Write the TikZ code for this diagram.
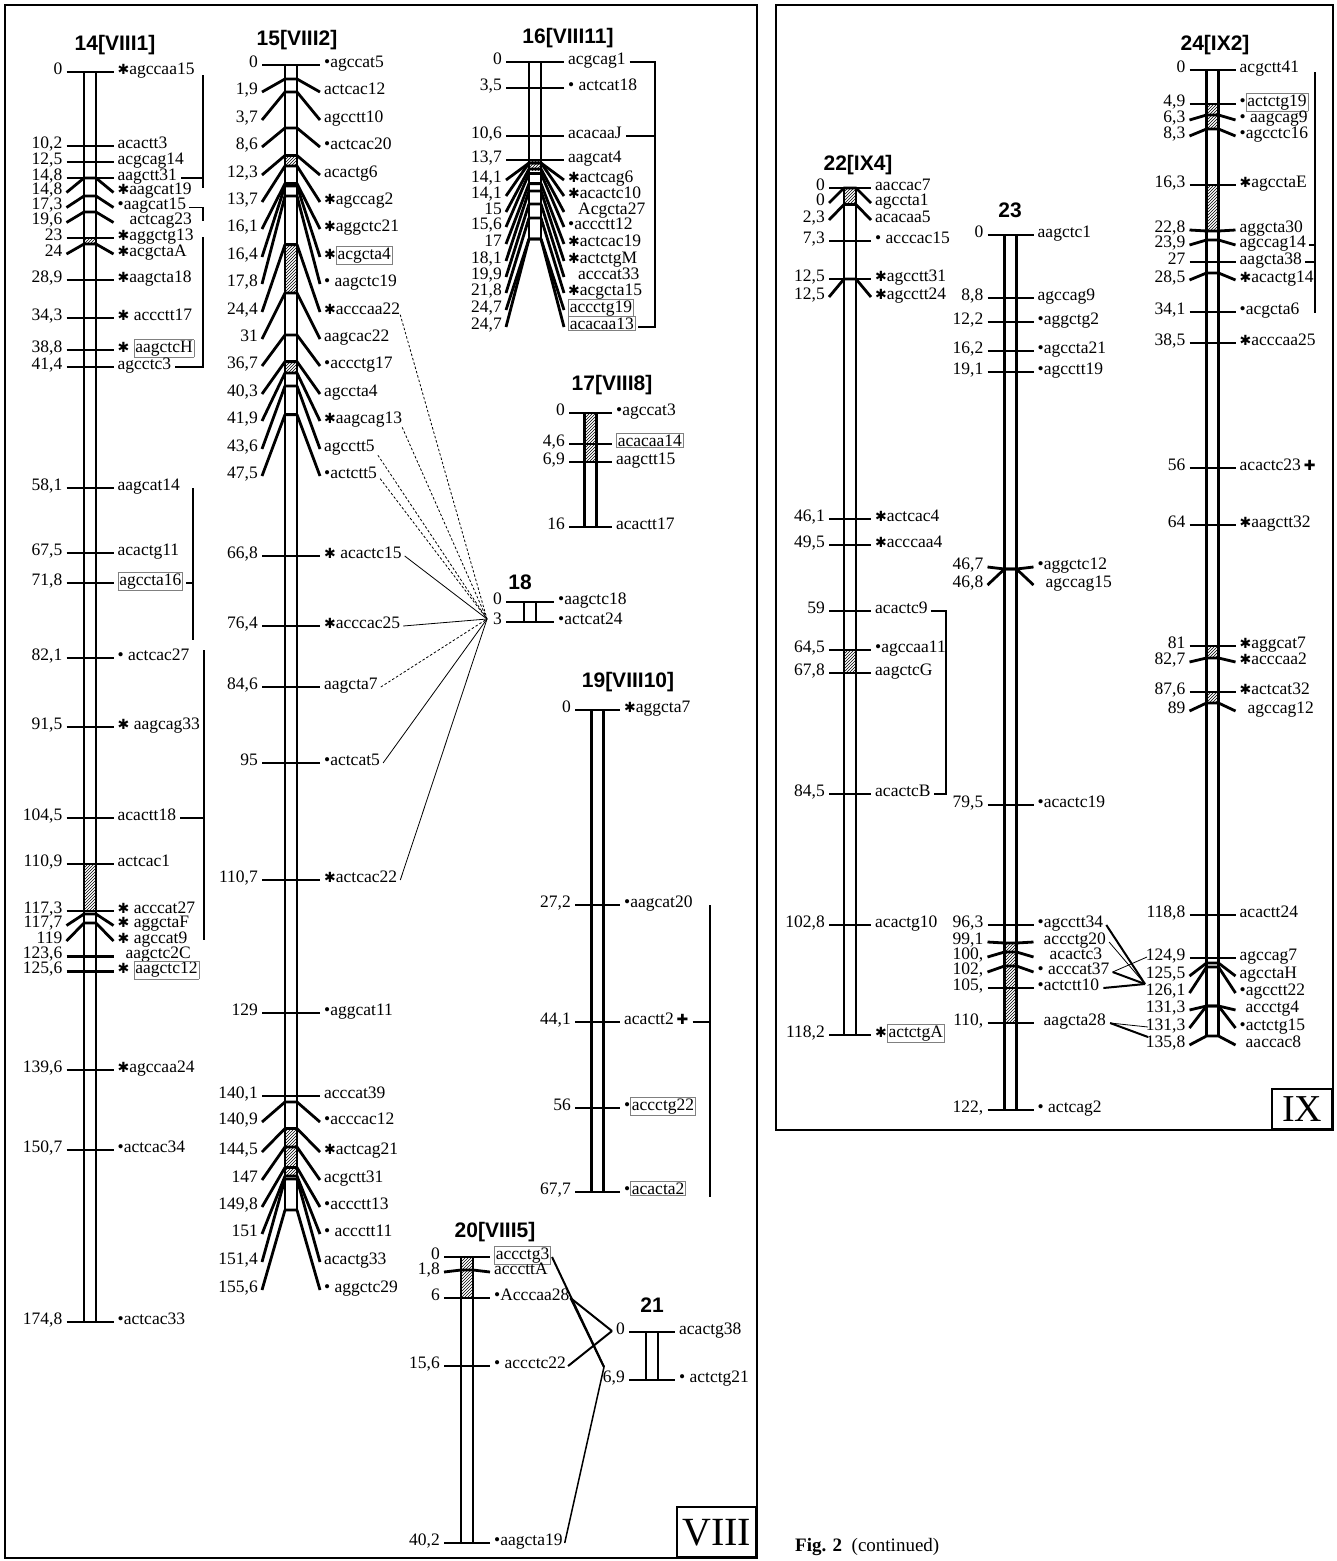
\documentclass[tikz,border=0pt]{standalone}
\usepackage{fontspec}
\setmainfont{Liberation Serif}
\newfontfamily\sansb{Liberation Sans}
\newfontfamily\djv{DejaVu Sans}
\usetikzlibrary{patterns,calc}
\newcommand\As{{\djv\fontsize{14}{14}\selectfont ✱}}
\newcommand\Bu{•}
\newcommand\Pl{\,{\djv\fontsize{14}{14}\selectfont ✚}}
\newcommand\Bx[1]{{\setlength\fboxsep{1pt}\setlength\fboxrule{0.6pt}\fcolorbox{gray}{white}{#1}}}
\tikzset{
 mtick/.style={line width=2.8pt, line join=round},
 barl/.style={line width=2.6pt},
 lab/.style={font=\fontsize{17.5}{17.5}\selectfont, inner sep=0pt},
 num/.style={font=\fontsize{17.5}{17.5}\selectfont, inner sep=0pt},
 ttl/.style={font=\sansb\bfseries\fontsize{21}{21}\selectfont, inner sep=0pt},
 brk/.style={line width=1.1pt},
 fan/.style={line width=0.8pt},
 fandash/.style={line width=0.8pt, dash pattern=on 2.5pt off 2pt},
 link/.style={line width=2pt},
 frame/.style={line width=1.6pt},
}
\def\mkx{0}\def\mkh{0}
\newcommand\mk[5]{%
 \draw[mtick] ({\mkx-\mkh},#3) -- ({\mkx-6},#2) -- ({\mkx+6},#2) -- ({\mkx+\mkh},#3);
 \node[num,anchor=mid east] (#1n) at ({\mkx-\mkh-4},#3) {#4};
 \node[lab,anchor=mid west] (#1) at ({\mkx+\mkh+4},#3) {#5};
}
\newcommand\chrfill[2]{\fill[white] ({\mkx-6},#1) rectangle ({\mkx+6},#2);}
\newcommand\chrlines[2]{\draw[barl] ({\mkx-6},#1) -- ({\mkx-6},#2) ({\mkx+6},#1) -- ({\mkx+6},#2);}
\newcommand\hatch[2]{\fill[pattern=north east lines] ({\mkx-6},#1) rectangle ({\mkx+6},#2);}
\begin{document}
\begin{tikzpicture}[x=1pt,y=-1pt]
\useasboundingbox (0,0) rectangle (1337,1561);
\fill[white] (0,0) rectangle (1337,1561);
% frames
\draw[frame] (5,5) rectangle (757,1558);
\draw[frame] (776,5) rectangle (1333,1130);
\node[draw,frame,minimum width=79pt,minimum height=50pt,inner sep=0pt,anchor=south east,font=\fontsize{40}{40}\selectfont] (b8) at (757,1558) {VIII};
\node[draw,frame,minimum width=60pt,minimum height=40pt,inner sep=0pt,anchor=south east,font=\fontsize{38}{38}\selectfont] (b9) at (1333,1130) {IX};
\node[anchor=mid west,inner sep=0pt,font=\fontsize{19}{19}\selectfont] (cap) at (795,1549) {\textbf{Fig. 2}\enspace(continued)};
% titles
\node[ttl] (t14) at (115,45) {14[VIII1]};
\node[ttl] (t15) at (297,40) {15[VIII2]};
\node[ttl] (t16) at (568,38) {16[VIII11]};
\node[ttl] (t17) at (612,385) {17[VIII8]};
\node[ttl] (t18) at (520,582) {18};
\node[ttl] (t19) at (628,682) {19[VIII10]};
\node[ttl] (t20) at (495,1232) {20[VIII5]};
\node[ttl] (t21) at (652,1305) {21};
\node[ttl] (t22) at (858,165) {22[IX4]};
\node[ttl] (t23) at (1010,210) {23};
\node[ttl] (t24) at (1215,45) {24[IX2]};
% ===== 14
\def\mkx{90}\def\mkh{23.5}
\chrfill{72}{1322}
\hatch{237}{244}\hatch{864}{911}
\mk{n14a}{72}{72}{0}{\As agccaa15}
\mk{n14b}{146}{146}{10,2}{acactt3}
\mk{n14c}{162}{162}{12,5}{acgcag14}
\mk{n14d}{178}{178}{14,8}{aagctt31}
\mk{n14e}{178}{192.5}{14,8}{\As aagcat19}
\mk{n14f}{196}{207.5}{17,3}{\Bu aagcat15}
\mk{n14g}{212}{222.5}{19,6}{\hspace{12pt}actcag23}
\mk{n14h}{238}{238}{23}{\As aggctg13}
\mk{n14i}{244}{254}{24}{\As acgctaA}
\mk{n14j}{280}{280}{28,9}{\As aagcta18}
\mk{n14k}{318}{318}{34,3}{\As\ accctt17}
\mk{n14l}{350}{350}{38,8}{\As\ \Bx{aagctcH}}
\mk{n14m}{367}{367}{41,4}{agcctc3}
\mk{n14n}{488}{488}{58,1}{aagcat14}
\mk{n14o}{553}{553}{67,5}{acactg11}
\mk{n14p}{583}{583}{71,8}{\Bx{agccta16}}
\mk{n14q}{658}{658}{82,1}{\Bu\ actcac27}
\mk{n14r}{727}{727}{91,5}{\As\ aagcag33}
\mk{n14s}{818}{818}{104,5}{acactt18}
\mk{n14t}{864}{864}{110,9}{actcac1}
\mk{n14u}{911}{911}{117,3}{\As\ acccat27}
\mk{n14v}{914}{925.5}{117,7}{\As\ aggctaF}
\mk{n14w}{923}{941}{119}{\As\ agccat9}
\mk{n14x}{956.5}{956.5}{123,6}{\hspace{8pt}aagctc2C}
\mk{n14y}{971.5}{971.5}{125,6}{\As\ \Bx{aagctc12}}
\mk{n14z}{1070}{1070}{139,6}{\As agccaa24}
\mk{n14A}{1150}{1150}{150,7}{\Bu actcac34}
\mk{n14B}{1322}{1322}{174,8}{\Bu actcac33}
\chrlines{72}{1322}
\coordinate (B14a) at (203,0);
\coordinate (B14b) at (193,0);
\coordinate (B14c) at (204,0);
\draw[brk] (203,75) -- (203,188);
\draw[brk] ([xshift=4pt]n14d.mid east) -- (n14d.mid east -| B14a);
\draw[brk] ([xshift=3pt]n14f.mid east) -- (n14f.mid east -| B14a) -- ++(0,13);
\draw[brk] (203,237) -- (n14m.mid east -| B14a) -- ([xshift=4pt]n14m.mid east);
\draw[brk] (193,488) -- (193,640);
\draw[brk] ([xshift=3pt]n14p.mid east) -- (n14p.mid east -| B14b);
\draw[brk] (204,650) -- (204,940);
\draw[brk] ([xshift=4pt]n14s.mid east) -- (n14s.mid east -| B14c);
% ===== 15
\def\mkx{291}\def\mkh{29}
\chrfill{65}{1210}
\hatch{155.5}{166}\hatch{244.6}{293}\hatch{361.6}{373}\hatch{1128.5}{1176}
\mk{n15a}{65}{65}{0}{\Bu agccat5}
\mk{n15b}{79}{92}{1,9}{actcac12}
\mk{n15c}{92}{120}{3,7}{agcctt10}
\mk{n15d}{128}{147}{8,6}{\Bu actcac20}
\mk{n15e}{155.5}{175}{12,3}{acactg6}
\mk{n15f}{166}{202}{13,7}{\As agccag2}
\mk{n15g}{183.5}{229}{16,1}{\As aggctc21}
\mk{n15h}{186}{257}{16,4}{\As\Bx{acgcta4}}
\mk{n15i}{196}{284}{17,8}{\Bu\ aagctc19}
\mk{n15j}{244.6}{312}{24,4}{\As acccaa22}
\mk{n15k}{293}{339}{31}{aagcac22}
\mk{n15l}{335}{366}{36,7}{\Bu accctg17}
\mk{n15m}{361.6}{394}{40,3}{agccta4}
\mk{n15n}{373}{421}{41,9}{\As aagcag13}
\mk{n15o}{386}{449}{43,6}{agcctt5}
\mk{n15p}{414.6}{476}{47,5}{\Bu actctt5}
\mk{n15q}{556}{556}{66,8}{\As\ acactc15}
\mk{n15r}{626}{626}{76,4}{\As acccac25}
\mk{n15s}{687}{687}{84,6}{aagcta7}
\mk{n15t}{763}{763}{95}{\Bu actcat5}
\mk{n15u}{880}{880}{110,7}{\As actcac22}
\mk{n15v}{1013}{1013}{129}{\Bu aggcat11}
\mk{n15w}{1096}{1096}{140,1}{acccat39}
\mk{n15x}{1102}{1122}{140,9}{\Bu acccac12}
\mk{n15y}{1128.5}{1152}{144,5}{\As actcag21}
\mk{n15z}{1147}{1180}{147}{acgctt31}
\mk{n15A}{1167.5}{1207}{149,8}{\Bu accctt13}
\mk{n15B}{1176}{1234}{151}{\Bu\ accctt11}
\mk{n15C}{1179}{1262}{151,4}{acactg33}
\mk{n15D}{1210}{1290}{155,6}{\Bu\ aggctc29}
\chrlines{65}{1210}
% ===== 16
\def\mkx{535}\def\mkh{29}
\chrfill{62}{239}
\hatch{160}{170}
\mk{n16a}{62}{62}{0}{acgcag1}
\mk{n16b}{88}{88}{3,5}{\Bu\ actcat18}
\mk{n16c}{136}{136}{10,6}{acacaaJ}
\mk{n16d}{160}{160}{13,7}{aagcat4}
\mk{n16e}{163}{180}{14,1}{\As actcag6}
\mk{n16f}{163}{196}{14,1}{\As acactc10}
\mk{n16g}{169}{212}{15}{\hspace{10pt}Acgcta27}
\mk{n16h}{173.5}{227}{15,6}{\Bu accctt12}
\mk{n16i}{183.6}{244}{17}{\As actcac19}
\mk{n16j}{191}{261}{18,1}{\As actctgM}
\mk{n16k}{204}{277}{19,9}{\hspace{10pt}acccat33}
\mk{n16l}{218}{293}{21,8}{\As acgcta15}
\mk{n16m}{239}{310}{24,7}{\Bx{accctg19}}
\mk{n16n}{239}{327}{24,7}{\Bx{acacaa13}}
\chrlines{62}{239}
\coordinate (B16) at (655,0);
\draw[brk] ([xshift=4pt]n16a.mid east) -- (n16a.mid east -| B16) -- (n16n.mid east -| B16) -- ([xshift=2pt]n16n.mid east);
\draw[brk] ([xshift=4pt]n16c.mid east) -- (n16c.mid east -| B16);
% ===== 17
\def\mkx{590.5}\def\mkh{21.5}
\chrfill{413}{527}
\hatch{413}{462}
\mk{n17a}{413}{413}{0}{\Bu agccat3}
\mk{n17b}{444}{444}{4,6}{\Bx{acacaa14}}
\mk{n17c}{462}{462}{6,9}{aagctt15}
\mk{n17d}{527}{527}{16}{acactt17}
\chrlines{413}{527}
% ===== 18
\def\mkx{530}\def\mkh{24}
\chrfill{602}{622}
\mk{n18a}{602}{602}{0}{\Bu aagctc18}
\mk{n18b}{622}{622}{3}{\Bu actcat24}
\chrlines{602}{622}
\coordinate (R) at (487,619);
\draw[fandash] (n15j.south east) -- (R);
\draw[fandash] (n15n.south east) -- (R);
\draw[fandash] ([xshift=3pt]n15o.south east) -- (R);
\draw[fandash] ([xshift=3pt]n15p.south east) -- (R);
\draw[fan] ([xshift=3pt]n15q.mid east) -- (R);
\draw[fan] ([xshift=3pt]n15r.mid east) -- (R);
\draw[fandash] ([xshift=3pt]n15s.mid east) -- (R);
\draw[fan] ([xshift=3pt]n15t.mid east) -- (R);
\draw[fan] ([xshift=3pt]n15u.mid east) -- (R);
% ===== 19
\def\mkx{597.5}\def\mkh{22.5}
\chrfill{710}{1192}
\mk{n19a}{710}{710}{0}{\As aggcta7}
\mk{n19b}{905}{905}{27,2}{\Bu aagcat20}
\mk{n19c}{1022}{1022}{44,1}{acactt2\Pl}
\mk{n19d}{1108}{1108}{56}{\Bu\Bx{accctg22}}
\mk{n19e}{1192}{1192}{67,7}{\Bu\Bx{acacta2}}
\chrlines{710}{1192}
\coordinate (B19) at (710,0);
\draw[brk] (710,905) -- (710,1197);
\draw[brk] ([xshift=4pt]n19c.mid east) -- (n19c.mid east -| B19);
% ===== 20
\def\mkx{467}\def\mkh{23}
\chrfill{1257}{1543}
\hatch{1257}{1298}
\mk{n20a}{1257}{1257}{0}{\Bx{accctg3}}
\mk{n20b}{1270}{1272}{1,8}{acccttA}
\mk{n20c}{1298}{1298}{6}{\Bu Acccaa28}
\mk{n20d}{1366}{1366}{15,6}{\Bu\ accctc22}
\mk{n20e}{1543}{1543}{40,2}{\Bu aagcta19}
\chrlines{1257}{1543}
% ===== 21
\def\mkx{652}\def\mkh{23}
\chrfill{1332}{1380}
\mk{n21a}{1332}{1332}{0}{acactg38}
\mk{n21b}{1380}{1380}{6,9}{\Bu\ actctg21}
\chrlines{1332}{1380}
\coordinate (P0) at (612,1331);
\coordinate (P69) at (604,1367);
\draw[link] ([xshift=1pt]n20a.mid east) -- (P69);
\draw[link] ([xshift=1pt]n20c.mid east) -- (P0);
\draw[link] ([xshift=1pt]n20c.mid east) -- (P69);
\draw[link] ([xshift=2pt]n20d.mid east) -- (P0);
\draw[line width=1.5pt] ([xshift=2pt]n20e.mid east) -- (P69);
% ===== 22
\def\mkx{850}\def\mkh{21}
\chrfill{188}{1035}
\hatch{188}{204.5}\hatch{650}{673}
\mk{n22a}{188}{188}{0}{aaccac7}
\mk{n22b}{188}{203}{0}{agccta1}
\mk{n22c}{204.5}{220}{2,3}{acacaa5}
\mk{n22d}{241}{241}{7,3}{\Bu\ acccac15}
\mk{n22e}{279}{279}{12,5}{\As agcctt31}
\mk{n22f}{279}{297}{12,5}{\As agcctt24}
\mk{n22g}{519}{519}{46,1}{\As actcac4}
\mk{n22h}{545}{545}{49,5}{\As acccaa4}
\mk{n22i}{611}{611}{59}{acactc9}
\mk{n22j}{650}{650}{64,5}{\Bu agccaa11}
\mk{n22k}{673}{673}{67,8}{aagctcG}
\mk{n22l}{794}{794}{84,5}{acactcB}
\mk{n22m}{925}{925}{102,8}{acactg10}
\mk{n22n}{1035}{1035}{118,2}{\As\Bx{actctgA}}
\chrlines{188}{1035}
\coordinate (B22) at (946,0);
\draw[brk] ([xshift=3pt]n22i.mid east) -- (n22i.mid east -| B22) -- (n22l.mid east -| B22) -- ([xshift=3pt]n22l.mid east);
% ===== 23
\def\mkx{1010.5}\def\mkh{23}
\chrfill{235}{1110}
\hatch{943}{1023}
\mk{n23a}{235}{235}{0}{aagctc1}
\mk{n23b}{298}{298}{8,8}{agccag9}
\mk{n23c}{322}{322}{12,2}{\Bu aggctg2}
\mk{n23d}{351}{351}{16,2}{\Bu agccta21}
\mk{n23e}{372}{372}{19,1}{\Bu agcctt19}
\mk{n23f}{569}{567}{46,7}{\Bu aggctc12}
\mk{n23g}{569}{585}{46,8}{\hspace{8pt}agccag15}
\mk{n23h}{805}{805}{79,5}{\Bu acactc19}
\mk{n23i}{925}{925}{96,3}{\Bu agcctt34}
\mk{n23j}{943}{942}{99,1}{\hspace{6pt}accctg20}
\mk{n23k}{952}{957}{100,}{\hspace{12pt}acactc3}
\mk{n23l}{966}{972}{102,}{\Bu\ acccat37}
\mk{n23m}{988}{988}{105,}{\Bu actctt10}
\mk{n23n}{1023}{1023}{110,}{\hspace{6pt}aagcta28}
\mk{n23o}{1110}{1110}{122,}{\Bu\ actcag2}
\chrlines{235}{1110}
% ===== 24
\def\mkx{1212.5}\def\mkh{23}
\chrfill{70}{1036}
\hatch{104}{129}\hatch{185}{231}\hatch{646}{658}\hatch{692}{703}
\mk{n24a}{70}{70}{0}{acgctt41}
\mk{n24b}{104}{104}{4,9}{\Bu\Bx{actctg19}}
\mk{n24c}{115}{120}{6,3}{\Bu\ aagcag9}
\mk{n24d}{129}{136}{8,3}{\Bu agcctc16}
\mk{n24e}{185}{185}{16,3}{\As agcctaE}
\mk{n24f}{231}{230}{22,8}{aggcta30}
\mk{n24g}{240}{245}{23,9}{agccag14}
\mk{n24h}{262}{262}{27}{aagcta38}
\mk{n24i}{273}{280}{28,5}{\As acactg14}
\mk{n24j}{312}{312}{34,1}{\Bu acgcta6}
\mk{n24k}{343}{343}{38,5}{\As acccaa25}
\mk{n24l}{468}{468}{56}{acactc23\Pl}
\mk{n24m}{525}{525}{64}{\As aagctt32}
\mk{n24n}{646}{646}{81}{\As aggcat7}
\mk{n24o}{658}{662}{82,7}{\As acccaa2}
\mk{n24p}{692}{692}{87,6}{\As actcat32}
\mk{n24q}{703}{711}{89}{\hspace{8pt}agccag12}
\mk{n24r}{915}{915}{118,8}{acactt24}
\mk{n24s}{958}{958}{124,9}{agccag7}
\mk{n24t}{963}{976}{125,5}{agcctaH}
\mk{n24u}{967}{993}{126,1}{\Bu agcctt22}
\mk{n24v}{1006}{1010}{131,3}{\hspace{6pt}accctg4}
\mk{n24w}{1006}{1028}{131,3}{\Bu actctg15}
\mk{n24x}{1036}{1045}{135,8}{\hspace{6pt}aaccac8}
\chrlines{70}{1036}
\coordinate (B24) at (1315,0);
\draw[brk] (1315,72) -- (1315,313);
\draw[brk] ([xshift=3pt]n24g.mid east) -- (n24g.mid east -| B24);
\draw[brk] ([xshift=3pt]n24h.mid east) -- (n24h.mid east -| B24);
% links 23-24
\coordinate (Q) at (1145,984);
\coordinate (Q1) at (1147,957);
\coordinate (Q2) at (1148,1027);
\coordinate (Q3) at (1148,1037);
\draw[link] ([xshift=3pt]n23i.mid east) -- (Q);
\draw[fan] ([xshift=3pt]n23j.mid east) -- (Q);
\draw[link] ([xshift=3pt]n23l.mid east) -- (Q);
\draw[fan] ([xshift=3pt]n23l.mid east) -- (Q1);
\draw[link] ([xshift=4pt]n23m.mid east) -- (Q);
\draw[fan] ([xshift=4pt]n23n.mid east) -- (Q2);
\draw[link] ([xshift=4pt]n23n.mid east) -- (Q3);
\end{tikzpicture}
\end{document}
